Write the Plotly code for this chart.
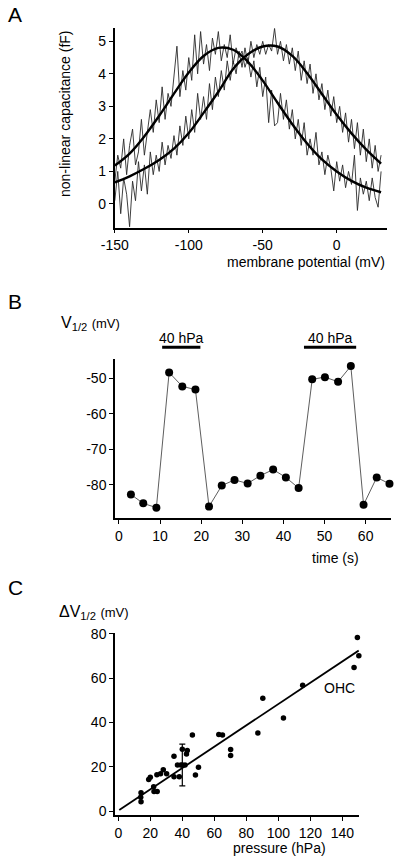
import plotly.graph_objects as go

# ---------------- Panel A data ----------------
v_trace = [-150 + 2 * i for i in range(91)]  # membrane potential samples (mV)
cap_trace1 = [
    0.7, 1.5, 1.1, 2.0, 0.9, 1.8, 2.3, 1.2, 1.6, 2.6,
    1.5, 2.3, 2.9, 2.2, 3.2, 2.5, 3.6, 2.6, 3.4, 3.0,
    3.9, 4.85, 3.3, 4.1, 3.5, 4.5, 3.8, 5.2, 4.0, 5.3,
    4.3, 4.9, 4.1, 5.1, 4.6, 5.3, 4.4, 4.9, 4.5, 5.2,
    4.3, 4.8, 4.5, 4.7, 4.2, 4.5, 3.9, 4.4, 3.6, 4.2,
    3.3, 3.9, 2.5, 3.5, 2.4, 2.5, 3.4, 2.6, 3.2, 2.3,
    2.9, 2.0, 2.6, 1.8, 2.5, 1.5, 2.0, 1.5, 2.2, 1.2,
    1.6, 0.9, 1.5, 1.1, 0.4, 1.3, 0.7, 1.2, 0.5, 1.0,
    0.6, 1.5, -0.2, 0.8, 0.3, 0.7, 0.1, 0.8, 0.2, -0.1,
    1.0,
]
cap_trace2 = [
    0.1, 1.0, -0.3, 0.8, 0.3, -0.7, 0.7, 0.1, 1.3, 0.4,
    1.2, 0.3, 1.6, 0.9, 1.5, 1.0, 1.9, 1.2, 1.8, 1.4,
    2.1, 1.5, 2.4, 1.8, 2.7, 2.0, 2.9, 2.2, 3.4, 2.6,
    3.3, 2.6, 3.7, 2.9, 3.9, 3.3, 4.1, 3.5, 4.4, 3.8,
    4.4, 4.0, 4.7, 4.2, 4.8, 4.3, 5.0, 4.5, 4.9, 4.6,
    5.0, 4.6, 4.9, 4.7, 5.4, 4.6, 5.0, 4.4, 4.9, 4.3,
    4.8, 4.1, 4.7, 3.8, 4.4, 3.7, 4.3, 3.4, 4.0, 3.2,
    3.7, 2.9, 3.5, 2.7, 3.3, 2.5, 3.0, 2.2, 2.8, 1.9,
    2.6, 1.7, 2.5, 1.5, 2.3, 1.3, 2.0, 1.1, 1.8, 1.0,
    1.5,
]
v_fit = [-150, -140, -130, -120, -110, -100, -90, -80, -70, -60, -50, -40, -30, -20, -10, 0, 10, 20, 30]
cap_fit1 = [1.18, 1.55, 2.08, 2.71, 3.39, 4.04, 4.55, 4.80, 4.74, 4.37, 3.79, 3.11, 2.45, 1.86, 1.37, 1.00, 0.71, 0.50, 0.36]
cap_fit2 = [0.66, 0.85, 1.08, 1.35, 1.70, 2.18, 2.80, 3.45, 4.15, 4.60, 4.84, 4.84, 4.55, 4.02, 3.38, 2.74, 2.17, 1.67, 1.24]
a_xticks = [-150, -100, -50, 0]
a_yticks = [0, 1, 2, 3, 4, 5]

# ---------------- Panel B data ----------------
time_s = [2.9, 5.9, 9.1, 12.2, 15.4, 18.6, 21.9, 25.0, 28.1, 31.3, 34.4,
          37.5, 40.6, 43.7, 47.0, 50.1, 53.3, 56.4, 59.5, 62.7, 65.8]
v_half = [-82.7, -85.2, -86.4, -48.4, -52.3, -53.2, -86.1, -80.2, -78.6, -79.6, -77.4,
          -75.7, -77.9, -80.9, -50.3, -49.7, -51.0, -46.6, -85.6, -77.9, -79.7]
pressure_on = [10.5, 45.0]
pressure_off = [19.8, 57.7]
pressure_label = "40 hPa"
b_xticks = [0, 10, 20, 30, 40, 50, 60]
b_yticks = [-80, -70, -60, -50]

# ---------------- Panel C data ----------------
pressure_hpa = [14.2, 14.0, 14.2, 19.0, 20.0, 22.1, 22.3, 24.3, 24.1, 26.4, 28.1, 30.2,
                34.8, 34.8, 38.1, 37.0, 39.1, 41.7, 40.0, 42.6, 43.1, 46.3, 48.2, 50.1,
                62.8, 65.1, 70.2, 70.2, 87.2, 90.3, 103.2, 115.2, 147.3, 149.4, 150.3]
delta_v = [8.3, 6.2, 4.2, 14.2, 15.3, 11.0, 8.8, 8.8, 16.4, 16.8, 18.7, 16.8,
           24.8, 15.5, 15.5, 20.8, 20.8, 20.8, 27.9, 25.8, 27.4, 34.4, 16.3, 19.8,
           34.6, 34.4, 27.8, 25.1, 35.3, 51.0, 42.0, 56.8, 64.8, 78.4, 70.1]
mean_p = [40.0]
mean_dv = [20.8]
mean_err = [9.4]
fit_p = [0.6, 150.2]
fit_dv = [0.45, 72.5]
c_xticks = [0, 20, 40, 60, 80, 100, 120, 140]
c_yticks = [0, 20, 40, 60, 80]

# ---------------- Layout helpers ----------------
W, H = 400, 861
FONT = "Liberation Sans, Arial, Helvetica, sans-serif"


def px(x):
    return x / W


def py(y):
    return 1 - y / H


fig = go.Figure()

# Panel A
fig.add_trace(go.Scatter(x=v_trace, y=cap_trace1, mode="lines",
                         line=dict(color="#2a2a2a", width=0.9), xaxis="x", yaxis="y"))
fig.add_trace(go.Scatter(x=v_trace, y=cap_trace2, mode="lines",
                         line=dict(color="#2a2a2a", width=0.9), xaxis="x", yaxis="y"))
fig.add_trace(go.Scatter(x=v_fit, y=cap_fit1, mode="lines",
                         line=dict(color="black", width=2.4, shape="spline"), xaxis="x", yaxis="y"))
fig.add_trace(go.Scatter(x=v_fit, y=cap_fit2, mode="lines",
                         line=dict(color="black", width=2.4, shape="spline"), xaxis="x", yaxis="y"))

# Panel B
fig.add_trace(go.Scatter(x=time_s, y=v_half, mode="lines+markers",
                         line=dict(color="#333", width=0.8),
                         marker=dict(color="black", size=8),
                         xaxis="x2", yaxis="y2", cliponaxis=False))

# Panel C
fig.add_trace(go.Scatter(x=fit_p, y=fit_dv, mode="lines",
                         line=dict(color="black", width=1.8), xaxis="x3", yaxis="y3"))
fig.add_trace(go.Scatter(x=pressure_hpa, y=delta_v, mode="markers",
                         marker=dict(color="black", size=5.5),
                         xaxis="x3", yaxis="y3", cliponaxis=False))
fig.add_trace(go.Scatter(x=mean_p, y=mean_dv, mode="markers",
                         marker=dict(color="black", size=5.5),
                         error_y=dict(type="data", array=mean_err, color="black",
                                      thickness=1.2, width=3),
                         xaxis="x3", yaxis="y3", cliponaxis=False))

axis_common = dict(showline=True, linecolor="black", linewidth=1.5,
                   ticks="outside", ticklen=4, tickwidth=1.2, tickcolor="black",
                   showgrid=False, zeroline=False, automargin=False,
                   tickfont=dict(family=FONT, size=14, color="black"))

fig.update_layout(
    template="none",
    width=W, height=H,
    margin=dict(l=0, r=0, t=0, b=0, pad=0, autoexpand=False),
    paper_bgcolor="white", plot_bgcolor="white",
    showlegend=False,
    font=dict(family=FONT, size=14, color="black"),
    xaxis=dict(domain=[px(114.5), px(387)], anchor="y", range=[-150.2, 34],
               tickvals=a_xticks, ticktext=[str(t) for t in a_xticks], **axis_common),
    yaxis=dict(domain=[py(227.7), py(28.3)], anchor="x", range=[-0.73, 5.4],
               tickvals=a_yticks, ticktext=[str(t) for t in a_yticks], **axis_common),
    xaxis2=dict(domain=[px(115), px(390.7)], anchor="y2", range=[-0.97, 66.1],
                tickvals=b_xticks, ticktext=[str(t) for t in b_xticks], **axis_common),
    yaxis2=dict(domain=[py(518.3), py(359)], anchor="x2", range=[-89.4, -44.6],
                tickvals=b_yticks, ticktext=[str(t) for t in b_yticks], **axis_common),
    xaxis3=dict(domain=[px(115), px(359)], anchor="y3", range=[-2.06, 150.4],
                tickvals=c_xticks, ticktext=[str(t) for t in c_xticks], **axis_common),
    yaxis3=dict(domain=[py(815), py(633.3)], anchor="x3", range=[-1.8, 80.3],
                tickvals=c_yticks, ticktext=[str(t) for t in c_yticks], **axis_common),
)

shapes = []
annotations = []
for t0, t1 in zip(pressure_on, pressure_off):
    shapes.append(dict(type="line", xref="x2", yref="paper", x0=t0, x1=t1,
                       y0=py(347.3), y1=py(347.3), line=dict(color="black", width=3)))
    annotations.append(dict(text=pressure_label, xref="x2", yref="paper",
                            x=(t0 + t1) / 2, y=py(337.7), showarrow=False,
                            xanchor="center", yanchor="middle",
                            font=dict(family=FONT, size=14)))


def ann(text, x, y, xanchor="left", size=14, angle=0):
    annotations.append(dict(text=text, xref="paper", yref="paper", x=px(x), y=py(y),
                            showarrow=False, xanchor=xanchor, yanchor="middle",
                            textangle=angle, font=dict(family=FONT, size=size, color="black")))


ann("A", 6, 15, size=21)
ann("B", 6, 301, size=21)
ann("C", 6, 587, size=21)
ann("non-linear capacitance (fF)", 65, 114, xanchor="center", angle=-90)
ann("membrane potential (mV)", 387, 262, xanchor="right")
ann("V<sub>1/2</sub> <span style='font-size:13px'>(mV)</span>", 59, 323, size=16)
ann("time (s)", 361, 558, xanchor="right")
ann("ΔV<sub>1/2</sub> <span style='font-size:13px'>(mV)</span>", 57, 612, size=16)
ann("OHC", 322, 688)
ann("pressure (hPa)", 328, 848, xanchor="right")

fig.update_layout(shapes=shapes, annotations=annotations)

fig.write_html("out.html", config={"displayModeBar": False},
               post_script="document.body.style.margin='0';document.body.style.padding='0';")
